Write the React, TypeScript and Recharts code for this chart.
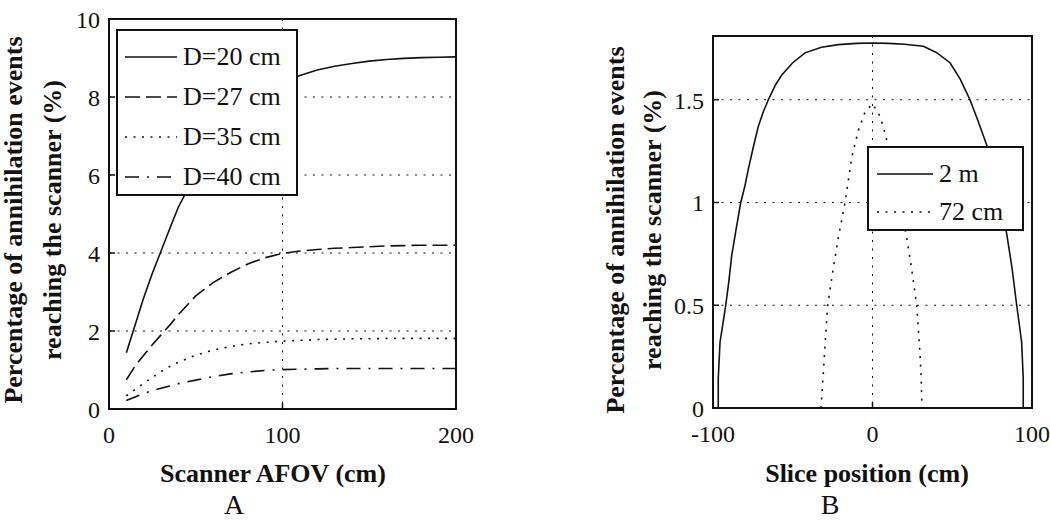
import React from "react";
import {
  CartesianGrid,
  Legend,
  Line,
  LineChart,
  ReferenceArea,
  XAxis,
  YAxis,
} from "recharts";

// Panel A: scanner AFOV (cm) vs percentage reaching scanner
const afov = [10, 15, 20, 25, 30, 35, 40, 50, 60, 70, 80, 90, 100, 110, 120, 130, 140, 150, 160, 170, 180, 190, 200];
const d20 = [1.44, 2.15, 2.85, 3.48, 4.05, 4.62, 5.18, 6.02, 6.72, 7.3, 7.75, 8.1, 8.36, 8.55, 8.69, 8.79, 8.86, 8.92, 8.96, 8.99, 9.01, 9.02, 9.03];
const d27 = [0.75, 1.1, 1.38, 1.65, 1.9, 2.15, 2.42, 2.9, 3.24, 3.5, 3.72, 3.88, 3.99, 4.05, 4.09, 4.12, 4.14, 4.16, 4.18, 4.19, 4.2, 4.2, 4.2];
const d35 = [0.34, 0.5, 0.66, 0.81, 0.96, 1.09, 1.2, 1.38, 1.51, 1.6, 1.67, 1.71, 1.74, 1.76, 1.78, 1.79, 1.8, 1.8, 1.81, 1.81, 1.81, 1.81, 1.81];
const d40 = [0.22, 0.31, 0.4, 0.47, 0.53, 0.59, 0.65, 0.74, 0.83, 0.9, 0.95, 0.99, 1.01, 1.02, 1.03, 1.04, 1.04, 1.04, 1.04, 1.04, 1.04, 1.04, 1.04];
const seriesA = [
  { key: "d20", name: "D=20 cm", dash: undefined as string | undefined },
  { key: "d27", name: "D=27 cm", dash: "15 6" },
  { key: "d35", name: "D=35 cm", dash: "2 6.5" },
  { key: "d40", name: "D=40 cm", dash: "14 8 2 8" },
];
const ticksXA = [0, 100, 200];
const ticksYA = [0, 2, 4, 6, 8, 10];

// Panel B: slice position (cm) profiles
const pos2m = [-96.7, -96.7, -95.6, -93.8, -92, -90, -88.3, -85.5, -82.6, -80, -77.9, -75, -71.6, -68.5, -65.3, -61, -56.9, -50, -42.3, -32, -21.4, -10, 0, 10, 20, 31.9, 40, 48.6, 55, 61.1, 66, 71.6, 75, 78.5, 81.5, 84.1, 87.5, 90.4, 92, 93.5, 94.5, 94.5];
const val2m = [0, 0.145, 0.32, 0.41, 0.5, 0.62, 0.74, 0.87, 1.0, 1.08, 1.16, 1.26, 1.37, 1.44, 1.5, 1.57, 1.62, 1.68, 1.728, 1.755, 1.768, 1.774, 1.776, 1.774, 1.77, 1.76, 1.73, 1.68, 1.6, 1.5, 1.4, 1.28, 1.17, 1.06, 0.96, 0.85, 0.68, 0.5, 0.41, 0.32, 0.145, 0];
const pos72 = [-32.3, -31, -29.8, -28.1, -25, -21.4, -17.2, -13, -8.9, -4.7, 0, 4.7, 7.8, 12, 16, 21.4, 24.5, 27.7, 29.5, 30.5, 31];
const val72 = [0, 0.15, 0.3, 0.5, 0.66, 0.83, 1.0, 1.22, 1.35, 1.44, 1.48, 1.42, 1.34, 1.2, 1.03, 0.83, 0.68, 0.5, 0.3, 0.15, 0];
const seriesB = [
  { name: "2 m", dash: undefined as string | undefined },
  { name: "72 cm", dash: "2 6.5" },
];
const ticksXB = [-100, 0, 100];
const ticksYB = [0, 0.5, 1, 1.5];
const yMaxB = 1.81;

const yTitle = ["Percentage of annihilation events", "reaching the scanner (%)"];

const SERIF = '"Liberation Serif", "Times New Roman", serif';
const INK = "#111";
const TICK = -6; // inward tick marks
const tickLineStyle = { stroke: INK, strokeWidth: 1.5 };

const dataA = afov.map((x, i) => ({ x, d20: d20[i], d27: d27[i], d35: d35[i], d40: d40[i] }));
const data2m = pos2m.map((x, i) => ({ x, v: val2m[i] }));
const data72 = pos72.map((x, i) => ({ x, v: val72[i] }));

const XTick = (props: any) => (
  <text x={props.x} y={props.y + 40} textAnchor="middle" fontSize={24} fontFamily={SERIF} fill={INK}>
    {props.payload.value}
  </text>
);
const YTick = (props: any) => (
  <text x={props.x - 15} y={props.y + 9} textAnchor="end" fontSize={24} fontFamily={SERIF} fill={INK}>
    {props.payload.value}
  </text>
);

const XTitle = ({ cx, title, letter, letterX }: any) => (
  <g fontFamily={SERIF} fill={INK}>
    <text x={cx} y={482} textAnchor="middle" fontSize={26} fontWeight="bold">
      {title}
    </text>
    <text x={letterX} y={514} textAnchor="middle" fontSize={28}>
      {letter}
    </text>
  </g>
);

const YTitle = ({ x1, x2, cy }: any) => (
  <g fontFamily={SERIF} fill={INK} fontSize={26} fontWeight="bold">
    <text x={x1} y={cy} textAnchor="middle" transform={`rotate(-90 ${x1} ${cy})`}>
      {yTitle[0]}
    </text>
    <text x={x2} y={cy} textAnchor="middle" transform={`rotate(-90 ${x2} ${cy})`}>
      {yTitle[1]}
    </text>
  </g>
);

function LegendBox({ items, width, height, padTop, rowH, padLeft, sampleW }: any) {
  return (
    <div
      style={{
        boxSizing: "border-box",
        width,
        height,
        border: `2px solid ${INK}`,
        background: "#fff",
        paddingTop: padTop - 2,
        paddingLeft: padLeft - 2,
        fontFamily: SERIF,
        fontSize: 26,
        color: INK,
      }}
    >
      {items.map((s: any) => (
        <div key={s.name} style={{ height: rowH, display: "flex", alignItems: "center" }}>
          <svg width={sampleW} height={6} style={{ marginRight: 6 }}>
            <line x1={0} y1={3} x2={sampleW} y2={3} stroke={INK} strokeWidth={1.6} strokeDasharray={s.dash} />
          </svg>
          <span style={{ lineHeight: 1 }}>{s.name}</span>
        </div>
      ))}
    </div>
  );
}

export default function App() {
  return (
    <div style={{ position: "absolute", left: 0, top: 0, width: 1050, height: 520, background: "#fff" }}>
      <div style={{ position: "absolute", left: 0, top: 0 }}>
        <LineChart width={540} height={520} data={dataA} margin={{ top: 19, right: 84, bottom: 81, left: 69 }}>
          <CartesianGrid stroke={INK} strokeDasharray="2 6.5" />
          <XAxis
            dataKey="x"
            type="number"
            domain={[0, 200]}
            ticks={ticksXA}
            tick={<XTick />}
            tickLine={tickLineStyle}
            axisLine={false}
            tickSize={TICK}
            tickMargin={0}
            height={30}
            label={<XTitle cx={273} title="Scanner AFOV (cm)" letter="A" letterX={234} />}
          />
          <XAxis
            xAxisId="top"
            orientation="top"
            type="number"
            domain={[0, 200]}
            ticks={ticksXA}
            tick={false}
            tickLine={tickLineStyle}
            axisLine={false}
            tickSize={TICK}
            height={0}
          />
          <YAxis
            type="number"
            domain={[0, 10]}
            ticks={ticksYA}
            tick={<YTick />}
            tickLine={tickLineStyle}
            axisLine={false}
            tickSize={TICK}
            tickMargin={0}
            width={40}
            label={<YTitle x1={22} x2={61} cy={220} />}
          />
          <YAxis
            yAxisId="right"
            orientation="right"
            type="number"
            domain={[0, 10]}
            ticks={ticksYA}
            tick={false}
            tickLine={tickLineStyle}
            axisLine={false}
            tickSize={TICK}
            width={0}
          />
          <ReferenceArea x1={0} x2={200} y1={0} y2={10} fill="none" stroke={INK} strokeWidth={2} />
          {seriesA.map((s) => (
            <Line
              key={s.key}
              dataKey={s.key}
              name={s.name}
              type="linear"
              stroke={INK}
              strokeWidth={1.6}
              strokeDasharray={s.dash}
              dot={false}
              isAnimationActive={false}
            />
          ))}
          <Legend
            layout="vertical"
            align="center"
            verticalAlign="middle"
            wrapperStyle={{ left: 116, top: 29, width: 182, height: 167 }}
            content={() => (
              <LegendBox items={seriesA} width={182} height={167} padTop={8} rowH={40} padLeft={9} sampleW={52} />
            )}
          />
        </LineChart>
      </div>
      <div style={{ position: "absolute", left: 540, top: 0 }}>
        <LineChart width={510} height={520} margin={{ top: 36, right: 18, bottom: 82, left: 133 }}>
          <CartesianGrid stroke={INK} strokeDasharray="2 6.5" />
          <XAxis
            dataKey="x"
            type="number"
            domain={[-100, 100]}
            ticks={ticksXB}
            tick={<XTick />}
            tickLine={tickLineStyle}
            axisLine={false}
            tickSize={TICK}
            tickMargin={0}
            height={30}
            allowDuplicatedCategory={false}
            label={<XTitle cx={327} title="Slice position (cm)" letter="B" letterX={290} />}
          />
          <XAxis
            xAxisId="top"
            orientation="top"
            type="number"
            domain={[-100, 100]}
            ticks={ticksXB}
            tick={false}
            tickLine={tickLineStyle}
            axisLine={false}
            tickSize={TICK}
            height={0}
          />
          <YAxis
            type="number"
            domain={[0, yMaxB]}
            ticks={ticksYB}
            tick={<YTick />}
            tickLine={tickLineStyle}
            axisLine={false}
            tickSize={TICK}
            tickMargin={0}
            width={40}
            label={<YTitle x1={84} x2={121} cy={230} />}
          />
          <YAxis
            yAxisId="right"
            orientation="right"
            type="number"
            domain={[0, yMaxB]}
            ticks={ticksYB}
            tick={false}
            tickLine={tickLineStyle}
            axisLine={false}
            tickSize={TICK}
            width={0}
          />
          <ReferenceArea x1={-100} x2={100} y1={0} y2={yMaxB} fill="none" stroke={INK} strokeWidth={2} />
          <Line
            data={data2m}
            dataKey="v"
            name={seriesB[0].name}
            type="linear"
            stroke={INK}
            strokeWidth={1.6}
            dot={false}
            isAnimationActive={false}
          />
          <Line
            data={data72}
            dataKey="v"
            name={seriesB[1].name}
            type="linear"
            stroke={INK}
            strokeWidth={1.6}
            strokeDasharray={seriesB[1].dash}
            dot={false}
            isAnimationActive={false}
          />
          <Legend
            layout="vertical"
            align="center"
            verticalAlign="middle"
            wrapperStyle={{ left: 327, top: 146, width: 157, height: 85 }}
            content={() => (
              <LegendBox items={seriesB} width={157} height={85} padTop={9} rowH={38} padLeft={10} sampleW={56} />
            )}
          />
        </LineChart>
      </div>
    </div>
  );
}
